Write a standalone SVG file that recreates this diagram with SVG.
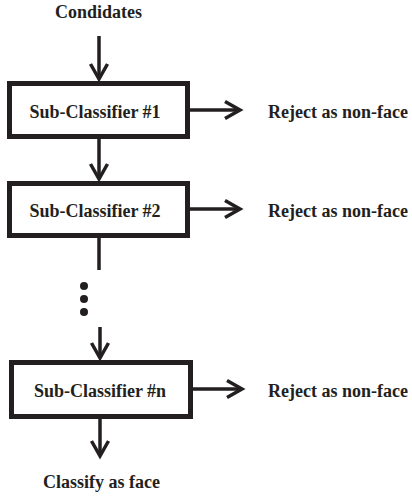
<svg xmlns="http://www.w3.org/2000/svg" width="412" height="497" viewBox="0 0 412 497">
  <style>
    .box { fill: #ffffff; stroke: #231f20; stroke-width: 5; }
    .lbl { font-weight: bold; font-size: 18px; fill: #231f20; }
    .mid { text-anchor: middle; }
    .wire { fill: none; stroke: #231f20; stroke-width: 3.5; }
    .dot { fill: #231f20; }
  </style>
  <defs>
    <marker id="chevron" markerUnits="userSpaceOnUse" viewBox="-20 -12 24 24" refX="0" refY="0" markerWidth="24" markerHeight="24" orient="auto" overflow="visible">
      <path d="M-15,-8.5 L0,0 L-15,8.5" fill="none" stroke="#231f20" stroke-width="3.5" stroke-linejoin="miter"/>
    </marker>
  </defs>

  <rect width="412" height="497" fill="#ffffff"/>

  <g font-family="'Liberation Serif', 'DejaVu Serif', serif">
    <text class="lbl mid" x="98.5" y="18">Condidates</text>
  </g>

  <g id="connectors">
    <line class="wire" x1="99" y1="36" x2="99" y2="79" marker-end="url(#chevron)"/>
    <line class="wire" x1="99" y1="139" x2="99" y2="179" marker-end="url(#chevron)"/>
    <line class="wire" x1="99" y1="238" x2="99" y2="270"/>
    <line class="wire" x1="100" y1="327" x2="100" y2="358" marker-end="url(#chevron)"/>
    <line class="wire" x1="100" y1="419" x2="100" y2="456" marker-end="url(#chevron)"/>
    <line class="wire" x1="190" y1="110" x2="240" y2="110" marker-end="url(#chevron)"/>
    <line class="wire" x1="190" y1="209" x2="240" y2="209" marker-end="url(#chevron)"/>
    <line class="wire" x1="193" y1="389" x2="242" y2="389" marker-end="url(#chevron)"/>
    <circle class="dot" cx="84" cy="286" r="4"/>
    <circle class="dot" cx="84" cy="299" r="4"/>
    <circle class="dot" cx="84" cy="312" r="4"/>
  </g>

  <g font-family="'Liberation Serif', 'DejaVu Serif', serif">
    <g id="stage1">
      <rect class="box" x="9.5" y="83.5" width="178" height="53"/>
      <text class="lbl mid" x="95" y="117.5">Sub-Classifier #1</text>
    </g>
    <g id="reject1">
      <text class="lbl" x="268" y="117.5">Reject as non-face</text>
    </g>

    <g id="stage2">
      <rect class="box" x="9.5" y="183.5" width="178" height="52"/>
      <text class="lbl mid" x="95" y="216.5">Sub-Classifier #2</text>
    </g>
    <g id="reject2">
      <text class="lbl" x="268" y="216.5">Reject as non-face</text>
    </g>

    <g id="stageN">
      <rect class="box" x="11.5" y="362.5" width="179" height="54"/>
      <text class="lbl mid" x="100" y="396.5">Sub-Classifier #n</text>
    </g>
    <g id="rejectN">
      <text class="lbl" x="268" y="396.5">Reject as non-face</text>
    </g>

    <g id="accept">
      <text class="lbl mid" x="101.5" y="488">Classify as face</text>
    </g>
  </g>
</svg>
